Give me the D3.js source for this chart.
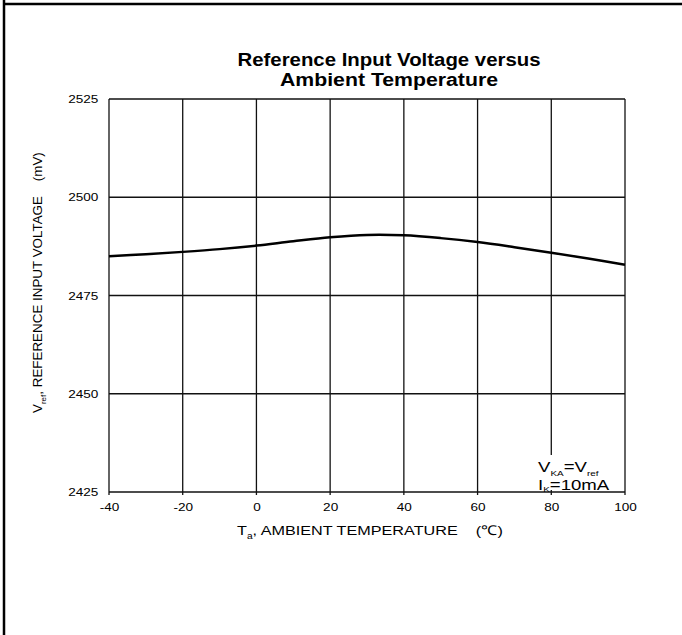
<!DOCTYPE html>
<html>
<head>
<meta charset="utf-8">
<script src="https://cdn.jsdelivr.net/npm/d3@7/dist/d3.min.js"></script>
<style>
  html, body { margin: 0; padding: 0; background: #fff; }
  svg { display: block; font-family: "Liberation Sans", Arial, sans-serif; }
</style>
</head>
<body>
<svg id="chart" width="682" height="635"></svg>
<script>
// Data
const temperatures = [-40, -30, -20, -10, 0, 10, 20, 30, 40, 50, 60, 70, 80, 90, 100];
const vrefValues   = [2485.0, 2485.5, 2486.1, 2486.8, 2487.7, 2488.8, 2489.8, 2490.4, 2490.3, 2489.6, 2488.6, 2487.3, 2485.9, 2484.4, 2482.8];
const xTicks = [-40, -20, 0, 20, 40, 60, 80, 100];
const yTicks = [2425, 2450, 2475, 2500, 2525];

const svg = d3.select("#chart");
const margin = { left: 109, right: 625, top: 99, bottom: 492 };
const SX = 1.18; // horizontal stretch of the reference's horizontal texts

const x = d3.scaleLinear().domain([-40, 100]).range([margin.left, margin.right]);
const y = d3.scaleLinear().domain([2425, 2525]).range([margin.bottom, margin.top]);

// Outer frame (left and top only)
svg.append("line").attr("x1", 4).attr("x2", 4).attr("y1", 0).attr("y2", 635)
  .attr("stroke", "#000").attr("stroke-width", 2.5);
svg.append("line").attr("x1", 4).attr("x2", 682).attr("y1", 4).attr("y2", 4)
  .attr("stroke", "#000").attr("stroke-width", 2.5);

// Title
svg.append("text").attr("x", 389).attr("y", 66).attr("text-anchor", "middle")
  .attr("font-size", 17.5).attr("font-weight", "bold").attr("fill", "#000")
  .attr("textLength", 303).attr("lengthAdjust", "spacingAndGlyphs")
  .text("Reference Input Voltage versus");
svg.append("text").attr("x", 389).attr("y", 86).attr("text-anchor", "middle")
  .attr("font-size", 17.5).attr("font-weight", "bold").attr("fill", "#000")
  .attr("textLength", 218).attr("lengthAdjust", "spacingAndGlyphs")
  .text("Ambient Temperature");

// Grid
const grid = svg.append("g");
grid.selectAll("line.v").data(xTicks).join("line").attr("class", "v")
  .attr("x1", d => x(d)).attr("x2", d => x(d))
  .attr("y1", y(2525)).attr("y2", y(2425) + 3)
  .attr("stroke", "#111").attr("stroke-width", 1.3);
grid.selectAll("line.h").data(yTicks).join("line").attr("class", "h")
  .attr("x1", x(-40)).attr("x2", x(100))
  .attr("y1", d => y(d)).attr("y2", d => y(d))
  .attr("stroke", "#111").attr("stroke-width", 1.3);

// Axes labels via d3 axes
const xAxis = d3.axisBottom(x).tickValues(xTicks).tickSize(0).tickPadding(11).tickFormat(d => String(d));
const gx = svg.append("g").attr("transform", `translate(0,${y(2425)})`).call(xAxis);
gx.select(".domain").remove();
gx.selectAll("text").attr("font-size", 11.5).attr("fill", "#000")
  .attr("font-family", "Liberation Sans, Arial, sans-serif")
  .attr("transform", `scale(${SX},1)`);

const yAxis = d3.axisLeft(y).tickValues(yTicks).tickSize(0).tickPadding(9).tickFormat(d => String(d));
const gy = svg.append("g").attr("transform", `translate(${x(-40)},0)`).call(yAxis);
gy.select(".domain").remove();
gy.selectAll("text").attr("font-size", 11.5).attr("fill", "#000")
  .attr("font-family", "Liberation Sans, Arial, sans-serif")
  .attr("transform", `scale(${SX},1)`);

// Curve
const line = d3.line().x((d, i) => x(temperatures[i])).y(d => y(d)).curve(d3.curveCatmullRom.alpha(0.5));
svg.append("path").datum(vrefValues).attr("d", line)
  .attr("fill", "none").attr("stroke", "#000").attr("stroke-width", 2.5);

// Annotation with white background
const annX = 538;
svg.append("rect").attr("x", annX - 2).attr("y", 455).attr("width", 84).attr("height", 35).attr("fill", "#fff");
const a1 = svg.append("text").attr("transform", `translate(${annX},472) scale(1.24,1)`).attr("font-size", 15).attr("fill", "#000");
a1.append("tspan").text("V");
a1.append("tspan").attr("font-size", 8).attr("dy", 4).text("KA");
a1.append("tspan").attr("dy", -4).text("=V");
a1.append("tspan").attr("font-size", 8).attr("dy", 4).text("ref");
const a2 = svg.append("text").attr("transform", `translate(${annX},490) scale(1.24,1)`).attr("font-size", 15).attr("fill", "#000");
a2.append("tspan").text("I");
a2.append("tspan").attr("font-size", 8).attr("dy", 2).text("K");
a2.append("tspan").attr("dy", -2).text("=10mA");

// X axis title
const xt = svg.append("text").attr("transform", `translate(237,535) scale(1.2,1)`).attr("font-size", 13.5).attr("fill", "#000");
xt.append("tspan").text("T");
xt.append("tspan").attr("font-size", 8.5).attr("dy", 4).text("a");
xt.append("tspan").attr("dy", -4).text(", AMBIENT TEMPERATURE\u00a0\u00a0\u00a0\u00a0(\u2103)");

// Y axis title
const yt = svg.append("text").attr("transform", "translate(42,413) rotate(-90)").attr("font-size", 13.4).attr("fill", "#000");
yt.append("tspan").text("V");
yt.append("tspan").attr("font-size", 8).attr("dy", 4).text("ref");
yt.append("tspan").attr("dy", -4).text(", REFERENCE INPUT VOLTAGE\u00a0\u00a0\u00a0\u00a0(mV)");
</script>
</body>
</html>
